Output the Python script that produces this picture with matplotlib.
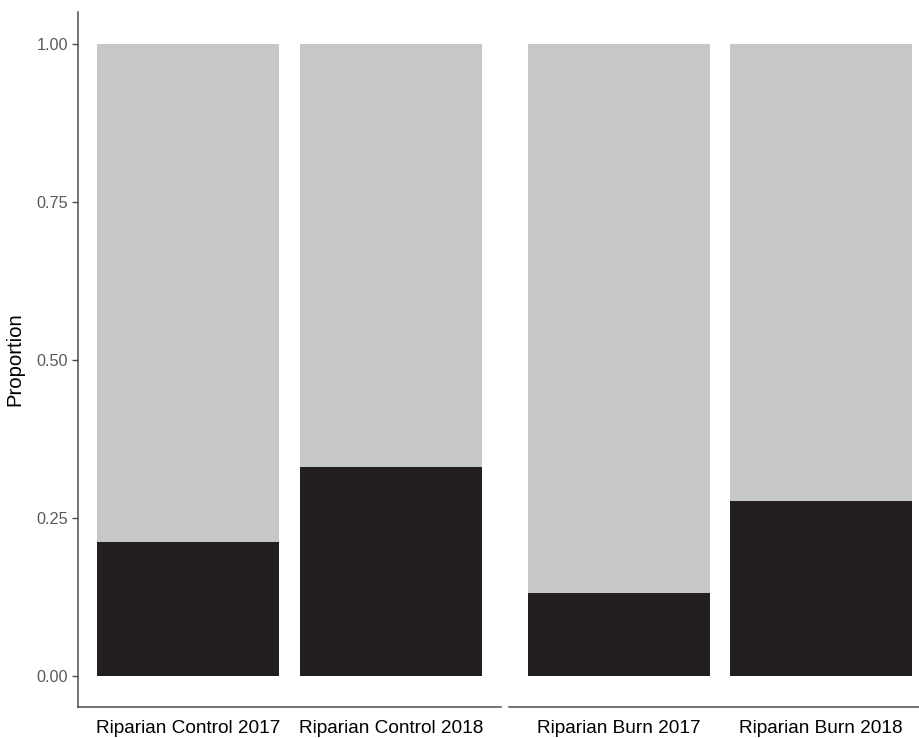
import matplotlib.pyplot as plt

plt.rcParams['font.family'] = ['Liberation Sans', 'DejaVu Sans']

# data
groups = [["Riparian Control 2017", "Riparian Control 2018"],
          ["Riparian Burn 2017", "Riparian Burn 2018"]]
dark_prop = [[0.212, 0.331], [0.131, 0.277]]
yticks = [0.00, 0.25, 0.50, 0.75, 1.00]
ytick_labels = ["0.00", "0.25", "0.50", "0.75", "1.00"]

dark_col = "#231f20"
light_col = "#c6c7c9"
axis_col = "#4d4d4d"

fig = plt.figure(figsize=(9.2, 7.38), dpi=100)
panels = [fig.add_axes([0.0848, 0.042, 0.4598, 0.9417]),
          fig.add_axes([0.5533, 0.042, 0.4587, 0.9417])]

for i, ax in enumerate(panels):
    x = [1, 2]
    dark = dark_prop[i]
    light = [1 - d for d in dark]
    ax.bar(x, dark, width=0.9, color=dark_col, zorder=2)
    ax.bar(x, light, bottom=dark, width=0.9, color=light_col, zorder=2)
    ax.set_xlim(0.455, 2.545)
    ax.set_ylim(-0.049, 1.051)
    ax.set_xticks(x)
    ax.set_xticklabels(groups[i], fontsize=13.7, color="black")
    ax.tick_params(axis="x", length=0, pad=9)
    for s in ["top", "right"]:
        ax.spines[s].set_visible(False)
    ax.spines["bottom"].set_color(axis_col)
    ax.spines["bottom"].set_linewidth(1.1)
    if i == 0:
        ax.set_yticks(yticks)
        ax.set_yticklabels(ytick_labels, fontsize=11.7, color="#5a5a5a")
        ax.tick_params(axis="y", length=4, width=1, color=axis_col, pad=3)
        ax.spines["left"].set_color(axis_col)
        ax.spines["left"].set_linewidth(1.1)
        ax.set_ylabel("Proportion", fontsize=14.6, labelpad=9)
    else:
        ax.spines["left"].set_visible(False)
        ax.set_yticks([])

fig.savefig("out.png", dpi=100)
